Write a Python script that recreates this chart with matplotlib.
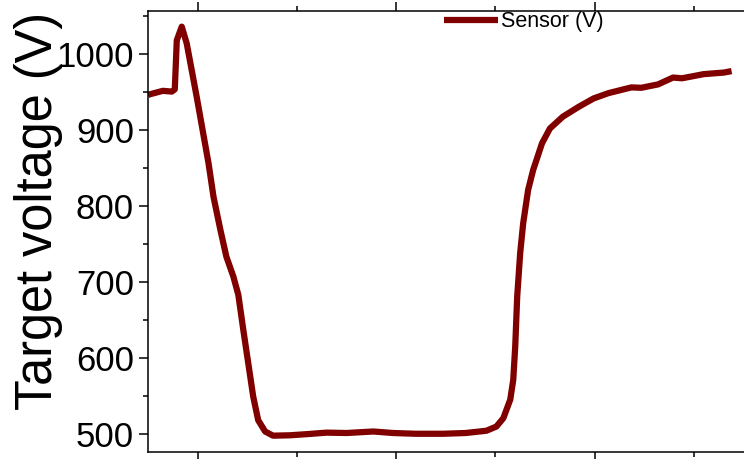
import matplotlib
matplotlib.use('Agg')
import matplotlib.pyplot as plt
from matplotlib.ticker import MultipleLocator

# sensor trace: time (arb. units) vs target voltage
time = [15.0, 15.2, 16.5, 17.4, 17.7, 17.9, 18.4, 18.9, 19.9, 20.5,
        21.1, 21.6, 22.3, 22.9, 23.6, 24.1, 24.6, 25.1, 25.6, 26.1,
        26.8, 27.6, 29.3, 31.0, 33.0, 35.0, 37.7, 39.7, 42.0, 44.7,
        47.0, 49.1, 50.1, 50.8, 51.5, 51.8, 52.0, 52.2, 52.5, 52.8,
        53.3, 53.8, 54.7, 55.5, 56.8, 58.4, 59.9, 61.4, 63.7, 64.7,
        66.4, 67.9, 68.8, 71.0, 73.0, 73.8]
sensor_v = [946, 947, 951.5, 950.5, 953.5, 1018, 1036, 1014, 944, 900,
            856, 812, 768, 733, 707, 683, 637, 593, 549, 518,
            503, 497.5, 498, 499.5, 501.5, 501, 503, 501, 500, 500,
            501, 504, 509.5, 520.5, 545, 571, 615, 681, 738, 777,
            821, 847, 882.5, 902, 917.5, 930.5, 941.5, 948.5, 956, 955.5,
            960, 969, 968, 973.5, 975.5, 977.5]
y_ticks = [500, 600, 700, 800, 900, 1000]

plt.rcParams['font.family'] = ['Liberation Sans', 'DejaVu Sans']

fig = plt.figure(figsize=(7.44, 4.59), dpi=100)
ax = fig.add_axes([148 / 744, 7 / 459, 622 / 744, 441 / 459])

ax.plot(time, sensor_v, color='#800000', lw=4.5, solid_joinstyle='round',
        solid_capstyle='butt', label='Sensor (V)')

ax.set_xlim(15, 77.67)
ax.set_ylim(476, 1056.6)
ax.set_yticks(y_ticks)
ax.yaxis.set_minor_locator(MultipleLocator(50))
ax.xaxis.set_major_locator(MultipleLocator(20))
ax.xaxis.set_minor_locator(MultipleLocator(10))

for s in ax.spines.values():
    s.set_linewidth(1.1)

ax.tick_params(which='both', direction='out', width=1.1, top=True,
               right=False, labelbottom=False)
ax.tick_params(which='major', length=6.5)
ax.tick_params(which='minor', length=3.5)
ax.tick_params(axis='y', which='major', pad=3.5, labelsize=25)

ax.set_ylabel('Target voltage (V)', fontsize=36.4)
ax.yaxis.set_label_coords(-0.137, 0.5465)

fig.legend(loc='center left', bbox_to_anchor=(444 / 744, 1 - 22 / 459),
           frameon=False, fontsize=15.5, borderpad=0, borderaxespad=0,
           handlelength=2.5, handletextpad=0.17)

fig.savefig('out.png', dpi=100)
